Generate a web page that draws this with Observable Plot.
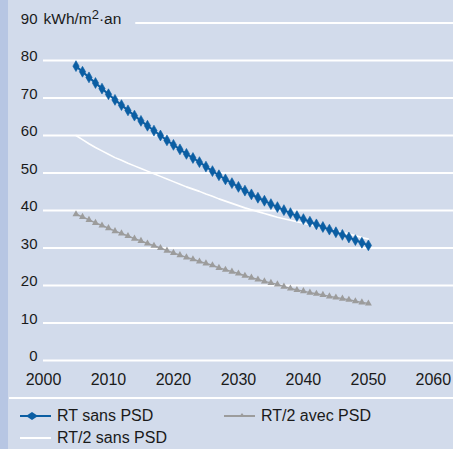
<!DOCTYPE html>
<html>
<head>
<meta charset="utf-8">
<script src="https://cdn.jsdelivr.net/npm/d3@7"></script>
<script src="https://cdn.jsdelivr.net/npm/@observablehq/plot@0.6"></script>
<style>
  html, body { margin: 0; padding: 0; background: #d2dbeb; }
  #wrap { position: relative; width: 453px; height: 449px; overflow: hidden; background: #d2dbeb;
          font-family: "Liberation Sans", Arial, Helvetica, sans-serif; color: #1a1a1a; }
  #strip { position: absolute; left: 0; top: 0; width: 8px; height: 449px; background: #b7c6e3; }
  #chart { position: absolute; left: 0; top: 0; }
  #sep { position: absolute; left: 9px; top: 397px; width: 444px; height: 2px; background: #ffffff; }
  .leg { position: absolute; font-size: 16px; line-height: 16px; white-space: nowrap; }
  .leg svg { position: absolute; left: 0; top: -3px; overflow: visible; }
  .leg span { position: absolute; left: 37px; top: 0; }
</style>
</head>
<body>
<div id="wrap">
  <div id="strip"></div>
  <div id="chart"></div>
  <div id="sep"></div>
  <div id="legend"></div>
</div>
<script>
const years = [2005,2006,2007,2008,2009,2010,2011,2012,2013,2014,2015,2016,2017,2018,2019,
  2020,2021,2022,2023,2024,2025,2026,2027,2028,2029,2030,2031,2032,2033,
  2034,2035,2036,2037,2038,2039,2040,2041,2042,2043,2044,2045,2046,2047,2048,2049,2050];

const seriesNames = ["RT sans PSD", "RT/2 avec PSD", "RT/2 sans PSD"];

const rtSansPSD = [78.5,77.0,75.5,74.0,72.5,71.0,69.5,68.1,66.7,65.3,63.9,62.6,61.3,60.0,58.7,
  57.5,56.3,55.1,54.0,52.9,51.7,50.5,49.4,48.3,47.3,46.3,45.3,44.3,43.4,
  42.6,41.7,40.9,40.1,39.3,38.5,37.7,37.0,36.3,35.6,34.9,34.2,33.5,32.8,32.1,31.4,30.7];

const rt2AvecPSD = [39.0,38.3,37.5,36.7,36.0,35.3,34.5,33.9,33.2,32.5,31.9,31.2,30.6,30.0,29.3,
  28.7,28.1,27.5,27.0,26.4,25.9,25.4,
  24.7,24.2,23.7,23.2,22.6,22.1,21.6,21.1,20.7,20.3,19.7,19.2,18.8,18.5,18.1,17.8,17.5,17.1,16.8,16.5,16.2,15.8,15.5,15.2];

const rt2SansPSD = [60.0,58.9,57.8,56.8,55.9,55.0,54.1,53.4,52.6,51.9,51.2,50.5,49.8,49.1,48.4,
  47.7,47.0,46.3,45.7,45.1,44.4,43.8,43.1,42.5,41.9,41.3,40.7,40.2,39.7,
  39.2,38.7,38.2,37.8,37.4,37.0,36.6,36.2,35.8,35.4,35.0,34.6,34.2,33.7,33.3,32.8,32.4];

const xTicks = [2000, 2010, 2020, 2030, 2040, 2050, 2060];
const yTicks = [0, 10, 20, 30, 40, 50, 60, 70, 80, 90];
const unitParts = ["kWh/m", "2", "·an"];

const colors = { blue: "#0b5ea3", grey: "#9c9c9c", white: "#ffffff" };

const toRows = (vals) => years.map((y, i) => ({ year: y, value: vals[i] }));
const blueRows = toRows(rtSansPSD);
const greyRows = toRows(rt2AvecPSD);
const whiteRows = toRows(rt2SansPSD);

const xMax = 2063.1;

const chart = Plot.plot({
  width: 453,
  height: 390,
  marginLeft: 43,
  marginRight: 0,
  marginTop: 22.5,
  marginBottom: 30,
  style: { background: "transparent", fontFamily: "\"Liberation Sans\", Arial, sans-serif", overflow: "visible" },
  x: { domain: [2000, xMax] },
  y: { domain: [0, 90] },
  marks: [
    Plot.ruleY(yTicks.filter(d => d < 90), { stroke: colors.white, strokeWidth: 2 }),
    Plot.ruleY([90], { x1: 2014.2, x2: xMax, stroke: colors.white, strokeWidth: 2 }),
    Plot.axisX({ ticks: xTicks, tickFormat: d => String(d), tickSize: 0, tickPadding: 13, fontSize: 16, fill: "#1a1a1a", label: null }),
    Plot.axisY({ ticks: yTicks, tickSize: 0, tickPadding: 6, dy: -4, fontSize: 15, fill: "#1a1a1a", label: null }),
    Plot.text([unitParts.join("")], { x: 2000, y: 90, text: d => d, textAnchor: "start", dx: 0, dy: -4, fontSize: 15.5, fill: "#1a1a1a", className: "unit-label" }),
    Plot.line(greyRows, { x: "year", y: "value", stroke: colors.grey, strokeWidth: 1.5 }),
    Plot.dot(greyRows, { x: "year", y: "value", symbol: "triangle", r: 2.6, fill: colors.grey, stroke: null }),
    Plot.line(whiteRows, { x: "year", y: "value", stroke: colors.white, strokeWidth: 1.6 }),
    Plot.line(blueRows, { x: "year", y: "value", stroke: colors.blue, strokeWidth: 2 }),
    Plot.dot(blueRows, { x: "year", y: "value", symbol: "diamond", r: 3.3, fill: colors.blue, stroke: colors.blue, strokeWidth: 0.6 })
  ]
});
// superscript in the unit label
const unitText = chart.querySelector(".unit-label text");
if (unitText) {
  unitText.textContent = "";
  const ns = "http://www.w3.org/2000/svg";
  const t1 = document.createElementNS(ns, "tspan"); t1.textContent = unitParts[0];
  const t2 = document.createElementNS(ns, "tspan"); t2.textContent = unitParts[1];
  t2.setAttribute("dy", "-5"); t2.setAttribute("font-size", "13");
  const t3 = document.createElementNS(ns, "tspan"); t3.textContent = unitParts[2];
  t3.setAttribute("dy", "5");
  unitText.append(t1, t2, t3);
}
document.getElementById("chart").appendChild(chart);

// Legend
const legendItems = [
  { name: seriesNames[0], color: colors.blue, marker: "diamond", left: 20, top: 408 },
  { name: seriesNames[1], color: colors.grey, marker: "triangle", left: 224, top: 408 },
  { name: seriesNames[2], color: colors.white, marker: null, left: 20, top: 430 }
];
const legend = document.getElementById("legend");
for (const it of legendItems) {
  const div = document.createElement("div");
  div.className = "leg";
  div.style.left = it.left + "px";
  div.style.top = it.top + "px";
  let markerSvg = "";
  if (it.marker === "diamond") markerSvg = `<polygon points="12,7 18,11 12,15 6,11" fill="${it.color}"/>`;
  if (it.marker === "triangle") markerSvg = `<polygon points="18,8 21,12 15,12" fill="${it.color}"/>`;
  div.innerHTML = `<svg width="31" height="22"><line x1="0" y1="11" x2="31" y2="11" stroke="${it.color}" stroke-width="2"/>${markerSvg}</svg><span>${it.name}</span>`;
  legend.appendChild(div);
}
</script>
</body>
</html>
